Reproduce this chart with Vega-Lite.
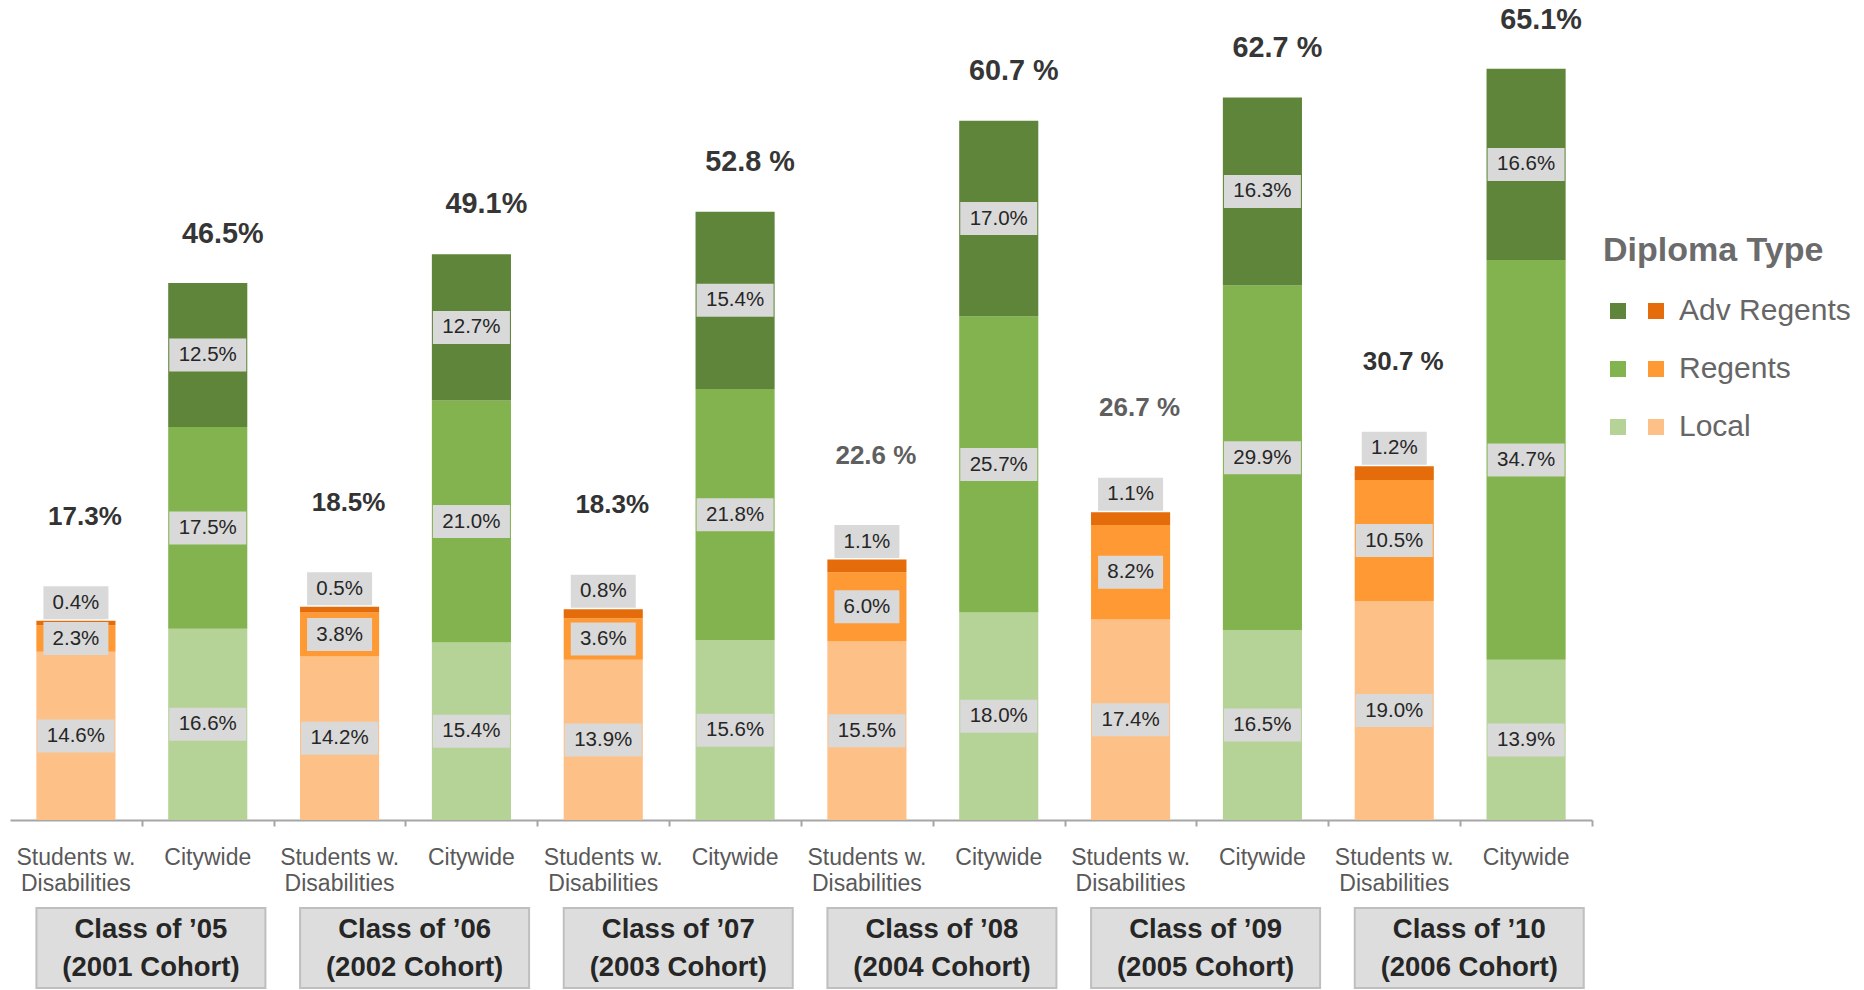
{
  "$schema": "https://vega.github.io/schema/vega-lite/v6.json",
  "padding": {"left": 10, "top": 0, "right": 0, "bottom": 0},
  "config": {"font": "Liberation Sans", "view": {"stroke": null}},
  "width": 1582,
  "height": 820,
  "encoding": {
    "x": {
      "field": "key",
      "type": "nominal",
      "scale": {
        "domain": ["2005 SWD", "2005 CW", "2006 SWD", "2006 CW", "2007 SWD", "2007 CW", "2008 SWD", "2008 CW", "2009 SWD", "2009 CW", "2010 SWD", "2010 CW"],
        "paddingInner": 0.4,
        "paddingOuter": 0.2
      },
      "axis": {
        "title": null,
        "orient": "bottom",
        "labels": false,
        "ticks": true,
        "tickSize": 6,
        "tickWidth": 2,
        "tickOffset": 65.9,
        "tickColor": "#A6A6A6",
        "domainColor": "#A6A6A6",
        "domainWidth": 2,
        "grid": false
      }
    }
  },
  "layer": [
    {
      "data": {"name": "segs", "values": [
        {"key": "2005 SWD", "grp": "SWD", "series": "SWD 1 Local", "v": 0.146},
        {"key": "2005 SWD", "grp": "SWD", "series": "SWD 2 Regents", "v": 0.023},
        {"key": "2005 SWD", "grp": "SWD", "series": "SWD 3 Adv Regents", "v": 0.004},
        {"key": "2005 CW", "grp": "CW", "series": "CW 1 Local", "v": 0.166},
        {"key": "2005 CW", "grp": "CW", "series": "CW 2 Regents", "v": 0.175},
        {"key": "2005 CW", "grp": "CW", "series": "CW 3 Adv Regents", "v": 0.125},
        {"key": "2006 SWD", "grp": "SWD", "series": "SWD 1 Local", "v": 0.142},
        {"key": "2006 SWD", "grp": "SWD", "series": "SWD 2 Regents", "v": 0.038},
        {"key": "2006 SWD", "grp": "SWD", "series": "SWD 3 Adv Regents", "v": 0.005},
        {"key": "2006 CW", "grp": "CW", "series": "CW 1 Local", "v": 0.154},
        {"key": "2006 CW", "grp": "CW", "series": "CW 2 Regents", "v": 0.210},
        {"key": "2006 CW", "grp": "CW", "series": "CW 3 Adv Regents", "v": 0.127},
        {"key": "2007 SWD", "grp": "SWD", "series": "SWD 1 Local", "v": 0.139},
        {"key": "2007 SWD", "grp": "SWD", "series": "SWD 2 Regents", "v": 0.036},
        {"key": "2007 SWD", "grp": "SWD", "series": "SWD 3 Adv Regents", "v": 0.008},
        {"key": "2007 CW", "grp": "CW", "series": "CW 1 Local", "v": 0.156},
        {"key": "2007 CW", "grp": "CW", "series": "CW 2 Regents", "v": 0.218},
        {"key": "2007 CW", "grp": "CW", "series": "CW 3 Adv Regents", "v": 0.154},
        {"key": "2008 SWD", "grp": "SWD", "series": "SWD 1 Local", "v": 0.155},
        {"key": "2008 SWD", "grp": "SWD", "series": "SWD 2 Regents", "v": 0.060},
        {"key": "2008 SWD", "grp": "SWD", "series": "SWD 3 Adv Regents", "v": 0.011},
        {"key": "2008 CW", "grp": "CW", "series": "CW 1 Local", "v": 0.180},
        {"key": "2008 CW", "grp": "CW", "series": "CW 2 Regents", "v": 0.257},
        {"key": "2008 CW", "grp": "CW", "series": "CW 3 Adv Regents", "v": 0.170},
        {"key": "2009 SWD", "grp": "SWD", "series": "SWD 1 Local", "v": 0.174},
        {"key": "2009 SWD", "grp": "SWD", "series": "SWD 2 Regents", "v": 0.082},
        {"key": "2009 SWD", "grp": "SWD", "series": "SWD 3 Adv Regents", "v": 0.011},
        {"key": "2009 CW", "grp": "CW", "series": "CW 1 Local", "v": 0.165},
        {"key": "2009 CW", "grp": "CW", "series": "CW 2 Regents", "v": 0.299},
        {"key": "2009 CW", "grp": "CW", "series": "CW 3 Adv Regents", "v": 0.163},
        {"key": "2010 SWD", "grp": "SWD", "series": "SWD 1 Local", "v": 0.190},
        {"key": "2010 SWD", "grp": "SWD", "series": "SWD 2 Regents", "v": 0.105},
        {"key": "2010 SWD", "grp": "SWD", "series": "SWD 3 Adv Regents", "v": 0.012},
        {"key": "2010 CW", "grp": "CW", "series": "CW 1 Local", "v": 0.139},
        {"key": "2010 CW", "grp": "CW", "series": "CW 2 Regents", "v": 0.347},
        {"key": "2010 CW", "grp": "CW", "series": "CW 3 Adv Regents", "v": 0.166}
      ]},
      "mark": {"type": "bar"},
      "encoding": {
        "y": {"field": "v", "type": "quantitative", "stack": "zero", "scale": {"domain": [0, 0.7117], "nice": false}, "axis": null},
        "order": {"field": "series", "sort": "ascending"},
        "color": {
          "field": "series",
          "type": "nominal",
          "scale": {
            "domain": ["CW 3 Adv Regents", "CW 2 Regents", "CW 1 Local", "SWD 3 Adv Regents", "SWD 2 Regents", "SWD 1 Local"],
            "range": ["#5E8539", "#82B34E", "#B5D297", "#E46C0A", "#FF9933", "#FDC087"]
          },
          "legend": {
            "orient": "none",
            "legendX": 1593,
            "legendY": 234,
            "columns": 2,
            "padding": 0,
            "title": "Diploma Type",
            "titleFontSize": 34,
            "titleFontWeight": "bold",
            "titleColor": "#6B6B6B",
            "titlePadding": 28,
            "titleLimit": 400,
            "labelFontSize": 30,
            "labelColor": "#666666",
            "labelOffset": 8,
            "labelLimit": 300,
            "labelExpr": "datum.value == 'SWD 3 Adv Regents' ? 'Adv Regents' : datum.value == 'SWD 2 Regents' ? 'Regents' : datum.value == 'SWD 1 Local' ? 'Local' : ' '",
            "symbolType": "square",
            "symbolSize": 256,
            "symbolStrokeWidth": 0,
            "symbolOpacity": 1,
            "rowPadding": 28,
            "columnPadding": 0
          }
        }
      }
    },
    {
      "data": {"name": "segs"},
      "transform": [{"filter": "datum.series != 'SWD 3 Adv Regents'"}],
      "mark": {"type": "point", "filled": true, "opacity": 1, "fill": "#D9D9D9", "strokeWidth": 0},
      "encoding": {
        "y": {"field": "v", "type": "quantitative", "stack": "zero", "bandPosition": 0.5, "scale": {"domain": [0, 0.7117], "nice": false}, "axis": null},
        "detail": {"field": "series"},
        "order": {"field": "series", "sort": "ascending"},
        "shape": {
          "condition": {"test": "datum.v >= 0.1", "value": "M-1,-0.4286L1,-0.4286L1,0.4286L-1,0.4286Z"},
          "value": "M-1,-0.5077L1,-0.5077L1,0.5077L-1,0.5077Z"
        },
        "size": {"condition": {"test": "datum.v >= 0.1", "value": 5929}, "value": 4225}
      }
    },
    {
      "data": {"name": "segs"},
      "transform": [{"filter": "datum.series != 'SWD 3 Adv Regents'"}],
      "mark": {"type": "text", "fontSize": 20.5, "color": "#262626", "baseline": "middle"},
      "encoding": {
        "y": {"field": "v", "type": "quantitative", "stack": "zero", "bandPosition": 0.5, "scale": {"domain": [0, 0.7117], "nice": false}, "axis": null},
        "detail": {"field": "series"},
        "order": {"field": "series", "sort": "ascending"},
        "text": {"field": "v", "type": "quantitative", "format": ".1%"}
      }
    },
    {
      "data": {"name": "totals", "values": [
        {"key": "2005 SWD", "grp": "SWD", "total": 0.173, "label": "17.3%", "adv": "0.4%"},
        {"key": "2005 CW", "grp": "CW", "total": 0.465, "label": "46.5%", "adv": ""},
        {"key": "2006 SWD", "grp": "SWD", "total": 0.185, "label": "18.5%", "adv": "0.5%"},
        {"key": "2006 CW", "grp": "CW", "total": 0.491, "label": "49.1%", "adv": ""},
        {"key": "2007 SWD", "grp": "SWD", "total": 0.183, "label": "18.3%", "adv": "0.8%"},
        {"key": "2007 CW", "grp": "CW", "total": 0.528, "label": "52.8 %", "adv": ""},
        {"key": "2008 SWD", "grp": "SWD", "total": 0.226, "label": "22.6 %", "adv": "1.1%"},
        {"key": "2008 CW", "grp": "CW", "total": 0.607, "label": "60.7 %", "adv": ""},
        {"key": "2009 SWD", "grp": "SWD", "total": 0.267, "label": "26.7 %", "adv": "1.1%"},
        {"key": "2009 CW", "grp": "CW", "total": 0.627, "label": "62.7 %", "adv": ""},
        {"key": "2010 SWD", "grp": "SWD", "total": 0.307, "label": "30.7 %", "adv": "1.2%"},
        {"key": "2010 CW", "grp": "CW", "total": 0.651, "label": "65.1%", "adv": ""}
      ]},
      "transform": [{"filter": "datum.grp == 'SWD'"}],
      "mark": {"type": "point", "filled": true, "opacity": 1, "fill": "#D9D9D9", "strokeWidth": 0, "size": 4225, "shape": "M-1,-1.0615L1,-1.0615L1,-0.0462L-1,-0.0462Z"},
      "encoding": {
        "y": {"field": "total", "type": "quantitative", "scale": {"domain": [0, 0.7117], "nice": false}, "axis": null}
      }
    },
    {
      "data": {"name": "totals"},
      "transform": [{"filter": "datum.grp == 'SWD'"}],
      "mark": {"type": "text", "fontSize": 20.5, "color": "#262626", "baseline": "middle", "dy": -18},
      "encoding": {
        "y": {"field": "total", "type": "quantitative", "scale": {"domain": [0, 0.7117], "nice": false}, "axis": null},
        "text": {"field": "adv"}
      }
    },
    {
      "data": {"name": "totals"},
      "transform": [{"filter": "datum.grp == 'SWD'"}],
      "mark": {"type": "text", "fontSize": 26, "fontWeight": "bold", "dx": 9, "dy": -104, "baseline": "middle"},
      "encoding": {
        "y": {"field": "total", "type": "quantitative", "scale": {"domain": [0, 0.7117], "nice": false}, "axis": null},
        "text": {"field": "label"},
        "color": {"condition": {"test": "datum.total == 0.226 || datum.total == 0.267", "value": "#5F5F5F"}, "value": "#333333"}
      }
    },
    {
      "data": {"name": "totals"},
      "transform": [{"filter": "datum.grp == 'CW'"}],
      "mark": {"type": "text", "fontSize": 28.8, "fontWeight": "bold", "dx": 15, "dy": -50, "baseline": "middle", "color": "#363636"},
      "encoding": {
        "y": {"field": "total", "type": "quantitative", "scale": {"domain": [0, 0.7117], "nice": false}, "axis": null},
        "text": {"field": "label"}
      }
    },
    {
      "data": {"name": "axislabels", "values": [
        {"key": "2005 SWD", "l1": "Students w.", "l2": "Disabilities"},
        {"key": "2005 CW", "l1": "Citywide", "l2": ""},
        {"key": "2006 SWD", "l1": "Students w.", "l2": "Disabilities"},
        {"key": "2006 CW", "l1": "Citywide", "l2": ""},
        {"key": "2007 SWD", "l1": "Students w.", "l2": "Disabilities"},
        {"key": "2007 CW", "l1": "Citywide", "l2": ""},
        {"key": "2008 SWD", "l1": "Students w.", "l2": "Disabilities"},
        {"key": "2008 CW", "l1": "Citywide", "l2": ""},
        {"key": "2009 SWD", "l1": "Students w.", "l2": "Disabilities"},
        {"key": "2009 CW", "l1": "Citywide", "l2": ""},
        {"key": "2010 SWD", "l1": "Students w.", "l2": "Disabilities"},
        {"key": "2010 CW", "l1": "Citywide", "l2": ""}
      ]},
      "mark": {"type": "text", "fontSize": 23, "color": "#595959", "baseline": "alphabetic"},
      "encoding": {
        "y": {"datum": -0.03906, "type": "quantitative", "scale": {"domain": [0, 0.7117], "nice": false}, "axis": null},
        "text": {"field": "l1"}
      }
    },
    {
      "data": {"name": "axislabels"},
      "mark": {"type": "text", "fontSize": 23, "color": "#595959", "baseline": "alphabetic"},
      "encoding": {
        "y": {"datum": -0.06163, "type": "quantitative", "scale": {"domain": [0, 0.7117], "nice": false}, "axis": null},
        "text": {"field": "l2"}
      }
    },
    {
      "data": {"name": "classes", "values": [
        {"key": "2005 SWD", "l1": "Class of ’05", "l2": "(2001 Cohort)"},
        {"key": "2006 SWD", "l1": "Class of ’06", "l2": "(2002 Cohort)"},
        {"key": "2007 SWD", "l1": "Class of ’07", "l2": "(2003 Cohort)"},
        {"key": "2008 SWD", "l1": "Class of ’08", "l2": "(2004 Cohort)"},
        {"key": "2009 SWD", "l1": "Class of ’09", "l2": "(2005 Cohort)"},
        {"key": "2010 SWD", "l1": "Class of ’10", "l2": "(2006 Cohort)"}
      ]},
      "mark": {"type": "point", "filled": true, "opacity": 1, "fill": "#DDDDDD", "stroke": "#BFBFBF", "strokeWidth": 2, "size": 52441, "shape": "M-0.345,-0.3493L1.655,-0.3493L1.655,0.3493L-0.345,0.3493Z"},
      "encoding": {
        "y": {"datum": -0.1111, "type": "quantitative", "scale": {"domain": [0, 0.7117], "nice": false}, "axis": null}
      }
    },
    {
      "data": {"name": "classes"},
      "mark": {"type": "text", "fontSize": 27.5, "fontWeight": "bold", "color": "#262626", "baseline": "alphabetic", "dx": 75},
      "encoding": {
        "y": {"datum": -0.10242, "type": "quantitative", "scale": {"domain": [0, 0.7117], "nice": false}, "axis": null},
        "text": {"field": "l1"}
      }
    },
    {
      "data": {"name": "classes"},
      "mark": {"type": "text", "fontSize": 27.5, "fontWeight": "bold", "color": "#262626", "baseline": "alphabetic", "dx": 75},
      "encoding": {
        "y": {"datum": -0.1354, "type": "quantitative", "scale": {"domain": [0, 0.7117], "nice": false}, "axis": null},
        "text": {"field": "l2"}
      }
    }
  ]
}
